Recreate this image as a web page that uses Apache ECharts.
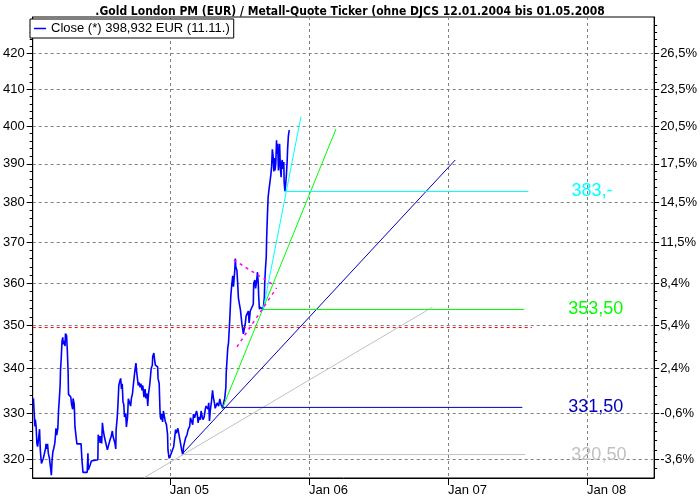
<!DOCTYPE html>
<html><head><meta charset="utf-8">
<script src="https://cdn.jsdelivr.net/npm/echarts@6/dist/echarts.min.js"></script>
<style>html,body{margin:0;padding:0;background:#fff}#c{width:700px;height:500px}</style>
</head><body><div id="c"></div>
<script>
const titleText = '.Gold London PM (EUR) / Metall-Quote Ticker (ohne DJCS 12.01.2004 bis 01.05.2008';
const seriesName = 'Close (*) 398,932 EUR (11.11.)';

const priceDates = [
'2004-01-09','2004-01-11','2004-01-13','2004-01-14','2004-01-16','2004-01-18','2004-01-20','2004-01-23','2004-01-25','2004-01-27',
'2004-01-28','2004-01-30','2004-02-02','2004-02-04','2004-02-07','2004-02-10','2004-02-11','2004-02-13','2004-02-15','2004-02-17',
'2004-02-20','2004-02-23','2004-02-25','2004-02-27','2004-02-29','2004-03-02','2004-03-05','2004-03-07','2004-03-08','2004-03-10',
'2004-03-13','2004-03-15','2004-03-17','2004-03-19','2004-03-20','2004-03-22','2004-03-24','2004-03-26','2004-03-27','2004-03-29',
'2004-04-01','2004-04-02','2004-04-05','2004-04-07','2004-04-09','2004-04-10','2004-04-14','2004-04-16','2004-04-18','2004-04-21',
'2004-04-22','2004-04-25','2004-04-27','2004-04-29','2004-05-02','2004-05-13','2004-05-15','2004-05-18','2004-05-29','2004-05-31',
'2004-06-01','2004-06-04','2004-06-06','2004-06-09','2004-06-13','2004-06-26','2004-06-27','2004-06-30','2004-07-02','2004-07-03',
'2004-07-06','2004-07-08','2004-07-10','2004-07-13','2004-07-15','2004-07-18','2004-07-21','2004-07-23','2004-07-26','2004-07-28',
'2004-07-31','2004-08-03','2004-08-05','2004-08-08','2004-08-10','2004-08-12','2004-08-13','2004-08-16','2004-08-18','2004-08-20',
'2004-08-23','2004-08-25','2004-08-27','2004-08-29','2004-08-31','2004-09-02','2004-09-04','2004-09-07','2004-09-09','2004-09-12',
'2004-09-14','2004-09-17','2004-09-20','2004-09-22','2004-09-25','2004-09-26','2004-09-29','2004-10-02','2004-10-04','2004-10-06',
'2004-10-09','2004-10-10','2004-10-12','2004-10-15','2004-10-17','2004-10-20','2004-10-22','2004-10-25','2004-10-28','2004-10-30',
'2004-11-02','2004-11-04','2004-11-06','2004-11-09','2004-11-11','2004-11-13','2004-11-16','2004-11-17','2004-11-20','2004-11-22',
'2004-11-24','2004-11-27','2004-11-30','2004-12-01','2004-12-04','2004-12-06','2004-12-07','2004-12-09','2004-12-11','2004-12-13',
'2004-12-15','2004-12-18','2004-12-20','2004-12-23','2004-12-26','2004-12-27','2004-12-30',
'2005-01-03','2005-01-08','2005-01-11','2005-01-16','2005-01-18','2005-01-22','2005-01-24','2005-01-27','2005-01-29','2005-02-01',
'2005-02-04','2005-02-06','2005-02-09','2005-02-11','2005-02-15','2005-02-18','2005-02-22','2005-02-24','2005-02-27','2005-03-02',
'2005-03-04','2005-03-07','2005-03-09','2005-03-12','2005-03-14','2005-03-16','2005-03-19','2005-03-22','2005-03-24','2005-03-27',
'2005-03-29','2005-04-01','2005-04-04','2005-04-06','2005-04-09','2005-04-11','2005-04-13','2005-04-15','2005-04-17','2005-04-20',
'2005-04-23','2005-04-25','2005-04-28','2005-04-30','2005-05-02','2005-05-05','2005-05-07','2005-05-09','2005-05-12','2005-05-15',
'2005-05-17','2005-05-20','2005-05-22','2005-05-25','2005-05-28','2005-05-29','2005-05-31','2005-06-02','2005-06-04','2005-06-07',
'2005-06-09','2005-06-10','2005-06-12','2005-06-15','2005-06-17','2005-06-20','2005-06-22','2005-06-23','2005-06-26','2005-06-28',
'2005-06-30','2005-07-03','2005-07-05','2005-07-07','2005-07-09','2005-07-12','2005-07-13','2005-07-15','2005-07-18','2005-07-20',
'2005-07-23','2005-07-26','2005-07-28','2005-07-31','2005-08-02','2005-08-05','2005-08-08','2005-08-09','2005-08-12','2005-08-14',
'2005-08-17','2005-08-19','2005-08-21','2005-08-22','2005-08-24','2005-08-26','2005-08-29','2005-08-31','2005-09-03','2005-09-06',
'2005-09-07','2005-09-09','2005-09-11','2005-09-12','2005-09-14','2005-09-16','2005-09-18','2005-09-20','2005-09-23','2005-09-25',
'2005-09-27','2005-09-29','2005-10-01','2005-10-02','2005-10-04','2005-10-06','2005-10-08','2005-10-09','2005-10-11','2005-10-13',
'2005-10-15','2005-10-16','2005-10-18','2005-10-20','2005-10-21','2005-10-23','2005-10-25','2005-10-27','2005-10-28','2005-10-30',
'2005-11-01','2005-11-03','2005-11-05','2005-11-06','2005-11-08','2005-11-10','2005-11-11'
];
const priceValues = [
333.3,330.0,327.1,328.6,327.0,323.4,322.7,324.9,326.5,322.0,
320.9,319.1,318.8,320.2,321.3,322.4,323.3,322.2,323.3,321.3,
320.2,318.1,316.6,319.9,321.6,322.2,323.4,325.3,326.7,325.2,
326.7,330.8,333.3,336.2,339.6,342.5,346.4,347.2,345.6,346.4,
345.2,348.1,347.6,343.9,339.2,334.2,334.0,333.6,332.0,330.9,
333.3,332.0,327.0,326.9,323.3,323.3,320.2,317.2,317.2,321.3,
317.7,318.1,318.8,319.6,319.7,319.9,325.3,324.5,323.5,325.0,
323.4,327.9,326.4,324.9,324.5,325.3,322.0,321.6,322.4,324.2,
324.9,326.1,324.9,324.5,323.4,322.2,326.4,329.2,332.3,336.2,
337.3,337.8,335.4,336.6,332.5,332.0,329.2,330.0,327.0,329.2,
333.2,333.2,331.6,333.3,334.4,335.4,337.8,340.1,341.3,339.2,
339.6,336.2,336.9,335.8,336.6,335.1,336.2,333.6,335.4,333.3,
334.4,331.6,334.4,336.2,338.1,340.1,340.8,342.8,343.6,342.0,
340.8,340.8,340.4,337.8,336.6,330.9,329.2,328.6,329.8,328.1,
330.5,330.8,328.2,327.5,325.3,322.0,320.2,
320.9,320.7,322.7,326.4,325.6,326.7,327.1,326.4,323.4,322.0,
320.9,322.7,323.1,324.5,325.3,326.4,327.1,329.0,328.6,327.5,
329.8,329.0,328.6,330.5,329.8,327.9,329.2,328.6,330.5,329.2,
328.6,329.2,330.9,331.6,332.0,330.9,332.3,328.3,330.5,332.5,
335.1,333.6,332.3,331.1,330.9,332.3,332.5,331.6,333.2,332.0,
331.6,331.1,332.3,333.3,335.8,339.2,342.0,344.8,346.0,351.0,
355.0,357.0,359.2,361.8,359.2,362.7,366.0,364.0,363.1,360.0,
356.4,356.0,353.8,353.8,350.4,350.0,348.0,349.1,350.4,352.2,
351.8,353.4,350.6,353.4,353.8,353.4,355.0,360.0,360.8,358.8,
360.8,362.7,360.0,357.2,353.8,354.3,354.0,354.7,353.8,356.6,
360.1,363.7,366.4,371.0,376.7,381.5,383.2,383.6,387.1,389.2,
393.8,392.0,388.0,391.5,388.3,390.1,396.2,392.6,395.3,388.3,
392.0,395.3,389.1,386.5,390.1,391.0,388.7,390.5,385.2,383.0,
384.7,387.4,391.0,393.8,397.3,398.7,398.9
];

// trend lines
const grayTrendDates = ['2004-10-26','2006-11-21'];   const grayTrendValues = [316.1, 354.3];
const blueTrendDates = ['2005-02-02','2007-01-20'];   const blueTrendValues = [321.1, 391.0];
const greenTrendDates = ['2005-05-20','2006-03-13'];  const greenTrendValues = [331.3, 399.2];
const cyanTrendDates = ['2005-09-03','2005-12-11'];   const cyanTrendValues = [353.8, 402.5];
const pinkUpperDates = ['2005-06-18','2005-09-30'];   const pinkUpperValues = [365.7, 359.6];
const pinkLowerDates = ['2005-06-26','2005-10-08'];   const pinkLowerValues = [345.0, 358.9];
const redLineDates = ['2004-01-07','2007-08-09'];     const redLineValues = [349.5, 349.5];

// horizontal support levels
const grayLevelDates = ['2005-02-02','2007-07-23'];   const grayLevelValue = 321.0;  const grayLevelLabel = '320,50';
const blueLevelDates = ['2005-05-20','2007-07-15'];   const blueLevelValue = 331.3;  const blueLevelLabel = '331,50';
const greenLevelDates = ['2005-09-03','2007-07-20'];  const greenLevelValue = 353.75; const greenLevelLabel = '353,50';
const cyanLevelDates = ['2005-10-28','2007-07-31'];   const cyanLevelValue = 382.85; const cyanLevelLabel = '383,-';

// axes
const yMajorTicks = [320,330,340,350,360,370,380,390,400,410,420];
const yRightLabels = ['-3,6%','-0,6%','2,4%','5,4%','8,4%','11,5%','14,5%','17,5%','20,5%','23,5%','26,5%'];
const xTickDates = ['2005-01-01','2006-01-01','2007-01-01','2008-01-01'];
const xTickLabels = ['Jan 05','Jan 06','Jan 07','Jan 08'];
const yMin = 316.0, yMax = 430.3;
const xMin = '2004-01-07', xMax = '2008-06-25';

const yMinorTicks = [];
for (let v = 318; v <= 430; v += 2) { if (v % 10 !== 0) yMinorTicks.push(v); }

const L = Math.log;
const T = s => Date.UTC(+s.slice(0, 4), +s.slice(5, 7) - 1, +s.slice(8, 10));
function pairs(dates, values) { return dates.map((d, i) => [T(d), L(values[i])]); }
function level(dates, v) { return dates.map(d => [T(d), L(v)]); }
const xTickTs = xTickDates.map(T);

const font = 'Liberation Sans, Arial, sans-serif';
const gridLine = { show: true, lineStyle: { color: '#808080', type: [3, 3], width: 1 } };

function yAxisBase(pos) {
  return { type: 'value', position: pos, min: L(yMin), max: L(yMax), scale: true };
}

const chart = echarts.init(document.getElementById('c'), null, { renderer: 'canvas' });
const trendLine = (name, dates, values, color, extra) => Object.assign({
  name: name, type: 'line', data: pairs(dates, values), showSymbol: false, symbol: 'none',
  silent: true, lineStyle: { color: color, width: 1 }, itemStyle: { color: color }, z: 3
}, extra || {});
const levelLine = (name, dates, v, color, label, dist) => ({
  name: name, type: 'line', data: level(dates, v), showSymbol: false, symbol: 'none', silent: true,
  lineStyle: { color: color, width: 1 }, itemStyle: { color: color }, z: 3,
  endLabel: { show: true, formatter: label, color: color, fontSize: 18, fontFamily: font, distance: dist }
});

chart.setOption({
  animation: false,
  backgroundColor: '#fff',
  title: { text: titleText, left: 'center', top: 1,
    textStyle: { fontSize: 12, fontWeight: 'bold', color: '#000', fontFamily: 'Liberation Sans Narrow, DejaVu Sans Condensed, Arial Narrow, Liberation Sans, sans-serif' } },
  legend: { data: [seriesName], left: 30, top: 19, orient: 'horizontal', backgroundColor: '#fff',
    borderColor: '#000', borderWidth: 1, borderRadius: 0, padding: [3, 4, 3, 4], itemGap: 4,
    icon: 'rect', itemWidth: 12, itemHeight: 1.5,
    textStyle: { fontSize: 13, color: '#000', fontFamily: font } },
  grid: { left: 29, right: 44, top: 17, bottom: 22, show: true, borderColor: '#000', borderWidth: 1, containLabel: false },
  xAxis: {
    type: 'value', min: T(xMin), max: T(xMax),
    axisLine: { show: true, lineStyle: { color: '#000', width: 1 } },
    axisTick: { show: true, customValues: xTickTs, length: 7, lineStyle: { color: '#000' } },
    axisLabel: { show: true, customValues: xTickTs, align: 'left', margin: 6, color: '#000', fontSize: 13, fontFamily: font,
      formatter: function (val) { const i = xTickTs.indexOf(val); return i >= 0 ? xTickLabels[i] : ''; } },
    splitLine: gridLine
  },
  yAxis: [
    Object.assign(yAxisBase('left'), {
      axisLine: { show: true, lineStyle: { color: '#000' } },
      axisTick: { show: true, customValues: yMajorTicks.map(L), length: 6, lineStyle: { color: '#000' } },
      axisLabel: { show: true, customValues: yMajorTicks.map(L), margin: 8, color: '#000', fontSize: 13, fontFamily: font,
        formatter: function (v) { return String(Math.round(Math.exp(v))); } },
      splitLine: gridLine
    }),
    Object.assign(yAxisBase('left'), {
      axisLine: { show: false }, axisLabel: { show: false }, splitLine: { show: false },
      axisTick: { show: true, customValues: yMinorTicks.map(L), length: 3, lineStyle: { color: '#000' } }
    }),
    Object.assign(yAxisBase('right'), {
      axisLine: { show: true, lineStyle: { color: '#000' } },
      axisTick: { show: true, customValues: yMajorTicks.map(L), length: 5, lineStyle: { color: '#000' } },
      axisLabel: { show: true, customValues: yMajorTicks.map(L), margin: 6, color: '#000', fontSize: 13, fontFamily: font,
        formatter: function (v) { const i = yMajorTicks.indexOf(Math.round(Math.exp(v))); return i >= 0 ? yRightLabels[i] : ''; } },
      splitLine: { show: false }
    }),
    Object.assign(yAxisBase('right'), {
      axisLine: { show: false }, axisLabel: { show: false }, splitLine: { show: false },
      axisTick: { show: true, customValues: yMinorTicks.map(L), length: 3, lineStyle: { color: '#000' } }
    })
  ],
  series: [
    { name: seriesName, type: 'line', data: pairs(priceDates, priceValues), showSymbol: false, symbol: 'none',
      lineStyle: { color: '#0000ff', width: 1.6 }, itemStyle: { color: '#0000ff' }, z: 2 },
    trendLine('red', redLineDates, redLineValues, '#ff0000', { lineStyle: { color: '#ff0000', width: 1, type: [3, 3] } }),
    trendLine('grayTrend', grayTrendDates, grayTrendValues, '#c0c0c0'),
    trendLine('blueTrend', blueTrendDates, blueTrendValues, '#0000c0'),
    trendLine('greenTrend', greenTrendDates, greenTrendValues, '#00ff00'),
    trendLine('cyanTrend', cyanTrendDates, cyanTrendValues, '#00ffff'),
    trendLine('pinkUpper', pinkUpperDates, pinkUpperValues, '#ff00ff', { lineStyle: { color: '#ff00ff', width: 1.5, type: [3, 4] } }),
    trendLine('pinkLower', pinkLowerDates, pinkLowerValues, '#ff00ff', { lineStyle: { color: '#ff00ff', width: 1.5, type: [3, 4] } }),
    levelLine('grayLevel', grayLevelDates, grayLevelValue, '#c0c0c0', grayLevelLabel, 46),
    levelLine('blueLevel', blueLevelDates, blueLevelValue, '#0000c0', blueLevelLabel, 46),
    levelLine('greenLevel', greenLevelDates, greenLevelValue, '#00ff00', greenLevelLabel, 44),
    levelLine('cyanLevel', cyanLevelDates, cyanLevelValue, '#00ffff', cyanLevelLabel, 43)
  ]
});
</script>
</body></html>
